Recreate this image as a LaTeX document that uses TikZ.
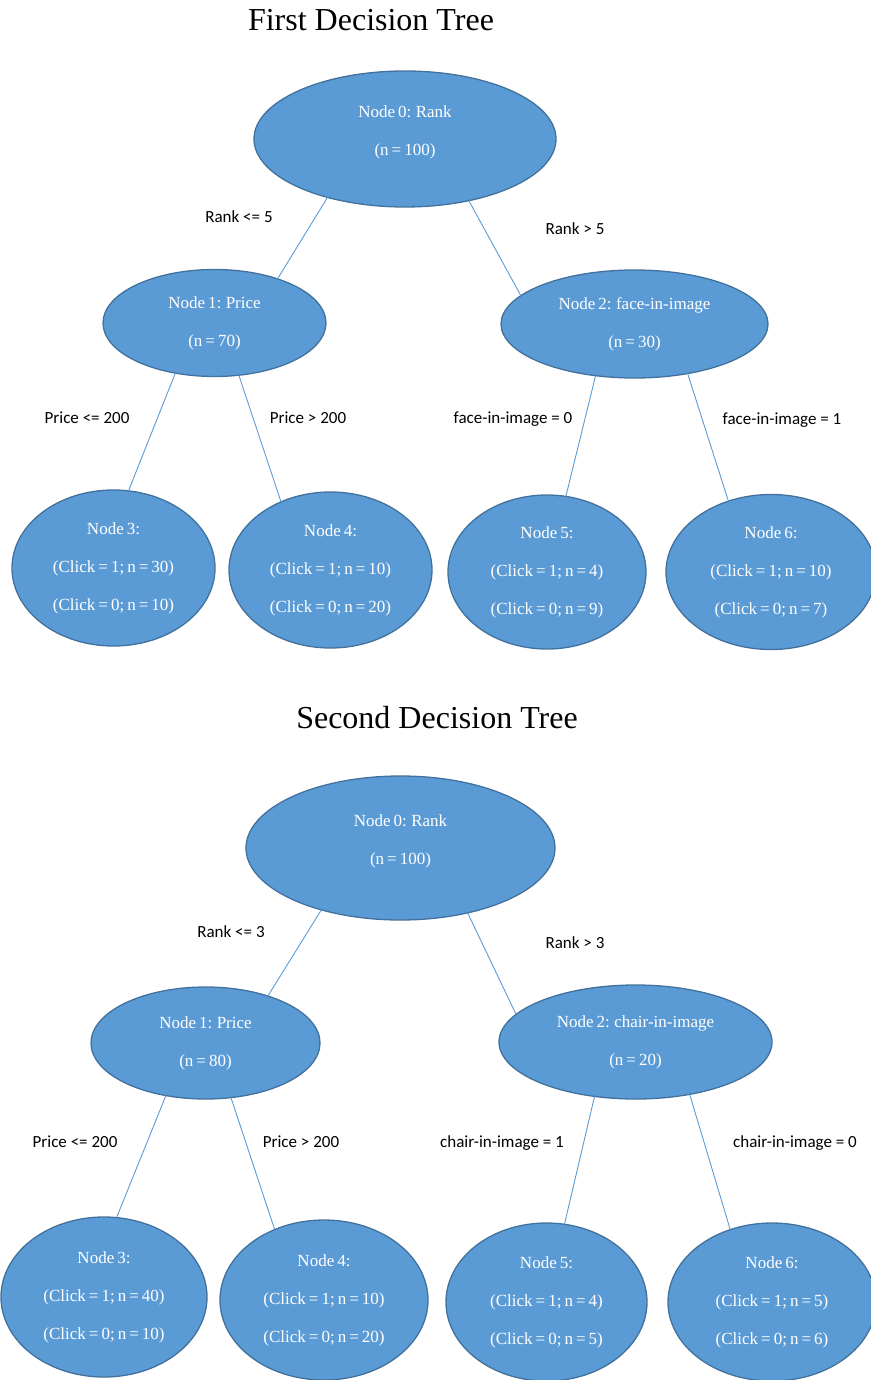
\documentclass[tikz,border=0pt]{standalone}
\usepackage{fontspec}
\setmainfont{Liberation Serif}
\newfontfamily\condfont{Carlito}
\usetikzlibrary{shapes.geometric}
\definecolor{nodefill}{HTML}{5B9BD5}
\definecolor{nodeline}{HTML}{41719C}
\begin{document}
\begin{tikzpicture}[x=1pt,y=-1pt,inner sep=0pt,outer sep=0pt,
treenode/.style={draw=nodeline,fill=nodefill,ellipse,line width=1.3pt,text=white,align=center,font={\fontsize{17}{38}\selectfont\spaceskip=3pt\relax}},
cond/.style={font=\condfont\fontsize{17}{20}\selectfont},
title/.style={font=\fontsize{32}{38}\selectfont},
edge/.style={draw=nodefill,line width=0.9pt}]
\useasboundingbox (0,0) rectangle (870,1380);

% first tree
\draw (371,20) node[title] (title1) {First Decision Tree};
\draw (405,139) node[treenode,minimum width=302pt,minimum height=136pt,text depth=17pt] (a0) {Node 0: Rank\\(n = 100)};
\draw (214.5,323) node[treenode,minimum width=223pt,minimum height=107pt] (a1) {Node 1: Price\\(n = 70)};
\draw (634.5,324) node[treenode,minimum width=267pt,minimum height=108pt] (a2) {Node 2: face-in-image\\(n = 30)};
\draw (113.5,568) node[treenode,minimum width=203pt,minimum height=156pt] (a3) {Node 3:\\(Click = 1; n = 30)\\(Click = 0; n = 10)};
\draw (330.5,570) node[treenode,minimum width=203pt,minimum height=156pt] (a4) {Node 4:\\(Click = 1; n = 10)\\(Click = 0; n = 20)};
\draw (547,572) node[treenode,minimum width=198pt,minimum height=154pt] (a5) {Node 5:\\(Click = 1; n = 4)\\(Click = 0; n = 9)};
\draw (771,572) node[treenode,minimum width=210pt,minimum height=155pt] (a6) {Node 6:\\(Click = 1; n = 10)\\(Click = 0; n = 7)};
\draw[edge] (a0.217) -- (a1.35);
\draw[edge] (a0.-44) -- (a2.166);
\draw[edge] (a1.232) -- (a3.79);
\draw[edge] (a1.-65) -- (a4.126);
\draw[edge] (a2.233) -- (a5.76);
\draw[edge] (a2.-43) -- (a6.121);
\draw (239,217) node[cond] (ca1) {Rank <= 5};
\draw (575,229) node[cond] (ca2) {Rank > 5};
\draw (87,418) node[cond] (ca3) {Price <= 200};
\draw (308,418) node[cond] (ca4) {Price > 200};
\draw (513,419) node[cond] (ca5) {face-in-image = 0};
\draw (782,420) node[cond] (ca6) {face-in-image = 1};

% second tree
\draw (437,718) node[title] (title2) {Second Decision Tree};
\draw (400.5,848) node[treenode,minimum width=309pt,minimum height=144pt,text depth=17pt] (b0) {Node 0: Rank\\(n = 100)};
\draw (205.5,1043) node[treenode,minimum width=229pt,minimum height=112pt] (b1) {Node 1: Price\\(n = 80)};
\draw (635.5,1042) node[treenode,minimum width=273pt,minimum height=114pt] (b2) {Node 2: chair-in-image\\(n = 20)};
\draw (104,1297) node[treenode,minimum width=206pt,minimum height=160pt] (b3) {Node 3:\\(Click = 1; n = 40)\\(Click = 0; n = 10)};
\draw (324,1300) node[treenode,minimum width=208pt,minimum height=160pt] (b4) {Node 4:\\(Click = 1; n = 10)\\(Click = 0; n = 20)};
\draw (546.5,1302) node[treenode,minimum width=201pt,minimum height=158pt] (b5) {Node 5:\\(Click = 1; n = 4)\\(Click = 0; n = 5)};
\draw (772,1302) node[treenode,minimum width=208pt,minimum height=158pt] (b6) {Node 6:\\(Click = 1; n = 5)\\(Click = 0; n = 6)};
\draw[edge] (b0.218) -- (b1.37);
\draw[edge] (b0.-44) -- (b2.167);
\draw[edge] (b1.233) -- (b3.81);
\draw[edge] (b1.-65) -- (b4.125);
\draw[edge] (b2.233) -- (b5.77);
\draw[edge] (b2.-44) -- (b6.120);
\draw (231,932) node[cond] (cb1) {Rank <= 3};
\draw (575,943) node[cond] (cb2) {Rank > 3};
\draw (75,1142) node[cond] (cb3) {Price <= 200};
\draw (301,1142) node[cond] (cb4) {Price > 200};
\draw (502,1143) node[cond] (cb5) {chair-in-image = 1};
\draw (795,1143) node[cond] (cb6) {chair-in-image = 0};
\end{tikzpicture}
\end{document}
